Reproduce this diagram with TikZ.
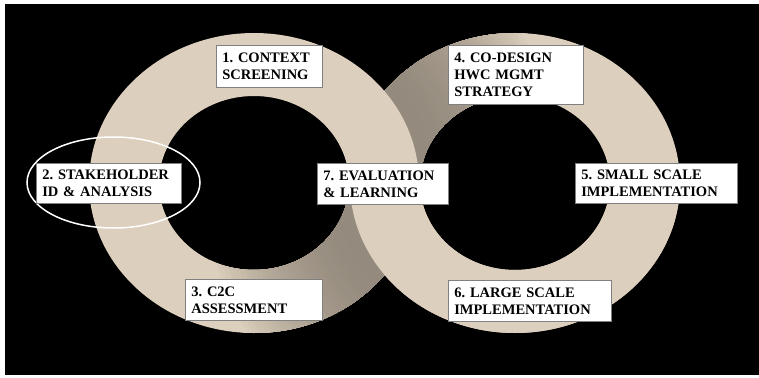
\documentclass[tikz,border=0pt]{standalone}
\usepackage{xcolor}
\usepackage{fontspec}
\setmainfont{Liberation Serif}
\usepackage{tikz}
\usetikzlibrary{positioning,calc}
\frenchspacing

\definecolor{ringbeige}{RGB}{221,207,189}
\definecolor{ringdark}{RGB}{148,138,125}
\definecolor{boxgray}{RGB}{128,128,128}

\tikzset{
  stagebox/.style={draw=boxgray, line width=0.6pt, fill=white, anchor=north west,
    align=left, inner xsep=6pt, inner ysep=0pt,
    font=\fontsize{14.5}{17}\selectfont\bfseries},
  ringfill/.style={fill=ringbeige, even odd rule}
}

\begin{document}
\begin{tikzpicture}[x=1pt,y=-1pt]
    \useasboundingbox (0,0) rectangle (759,377);
    \fill[white] (0,0) rectangle (759,377);
    \fill[black] (5,4) rectangle (759,375);
    \coordinate (lc) at (254,183);
    \coordinate (rc) at (515,183);
    % right ring, under the left one at the top
    \fill[ringfill] (rc) ellipse [x radius=165pt, y radius=150pt] (rc) ellipse [x radius=95pt, y radius=87pt];
    \begin{scope}[even odd rule]
      \clip (rc) ellipse [x radius=165pt, y radius=150pt] (rc) ellipse [x radius=95pt, y radius=87pt];
      \clip (0,0) rectangle (759,183);
      \foreach \k [evaluate=\k as \p using int(100*(\k/30)^2)] in {30,...,0}
        \fill[ringbeige!\p!ringdark] (lc) ellipse [x radius=165pt+5pt*\k, y radius=150pt+5pt*\k];
    \end{scope}
    % left ring
    \fill[ringfill] (lc) ellipse [x radius=165pt, y radius=150pt] (lc) ellipse [x radius=95pt, y radius=87pt];
    \begin{scope}[even odd rule]
      \clip (lc) ellipse [x radius=165pt, y radius=150pt] (lc) ellipse [x radius=95pt, y radius=87pt];
      \clip (0,183) rectangle (759,377);
      \foreach \k [evaluate=\k as \p using int(100*(\k/30)^2)] in {30,...,0}
        \fill[ringbeige!\p!ringdark] (rc) ellipse [x radius=165pt+5pt*\k, y radius=150pt+5pt*\k];
    \end{scope}
    % right ring over the left one at the bottom
    \begin{scope}
      \clip (0,183) rectangle (759,377);
      \fill[ringfill] (rc) ellipse [x radius=165pt, y radius=150pt] (rc) ellipse [x radius=95pt, y radius=87pt];
    \end{scope}
    \draw[white, line width=1.5pt] (113.5,182.5) ellipse [x radius=86.5pt, y radius=45.5pt]; % highlight on step 2

    \node[stagebox, text width=94.4pt, minimum height=42pt] (screening) at (216,45) {1. CONTEXT\\SCREENING};
    \node[stagebox, text width=133.4pt, minimum height=40pt] (stakeholders) at (36,163) {2. STAKEHOLDER\\ID \& ANALYSIS};
    \node[stagebox, text width=125.4pt, minimum height=41pt] (assessment) at (185,279) {3. C2C\\ASSESSMENT};
    \node[stagebox, text width=123.4pt, minimum height=59pt] (codesign) at (448,45) {4. CO-DESIGN\\HWC MGMT\\STRATEGY};
    \node[stagebox, text width=150.4pt, minimum height=40pt] (smallscale) at (575,163) {5. SMALL SCALE\\IMPLEMENTATION};
    \node[stagebox, text width=151.4pt, minimum height=41pt] (largescale) at (448,280) {6. LARGE SCALE\\IMPLEMENTATION};
    \node[stagebox, text width=119.4pt, minimum height=41pt] (evaluation) at (317,163) {7. EVALUATION\\\& LEARNING};
\end{tikzpicture}
\end{document}
